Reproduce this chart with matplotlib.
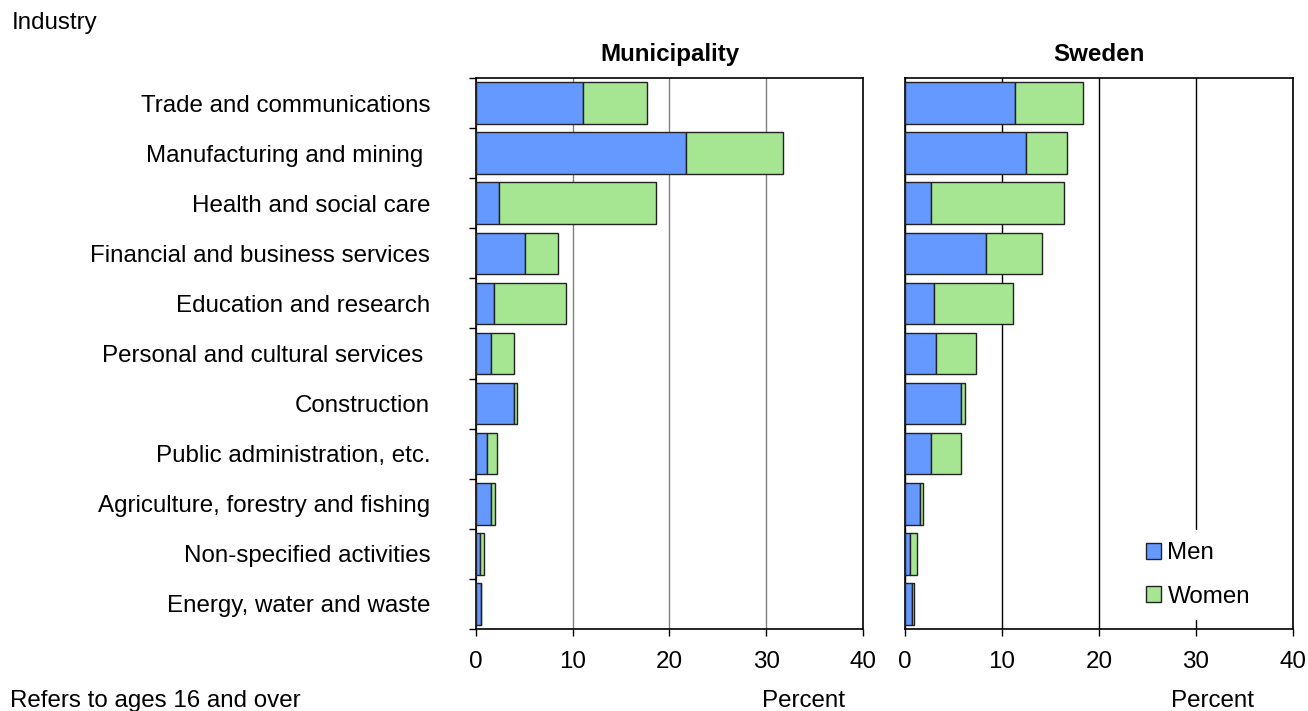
import matplotlib.pyplot as plt
import matplotlib.ticker as mticker
import numpy as np

plt.rcParams['font.family'] = ['Liberation Sans', 'DejaVu Sans']

# industries, top to bottom
industries = ["Trade and communications", "Manufacturing and mining ",
              "Health and social care", "Financial and business services",
              "Education and research", "Personal and cultural services ",
              "Construction", "Public administration, etc.",
              "Agriculture, forestry and fishing", "Non-specified activities",
              "Energy, water and waste"]

# share of employed, percent
muni_men = [11.1, 21.7, 2.35, 5.1, 1.9, 1.6, 3.9, 1.1, 1.6, 0.45, 0.5]
muni_women = [6.6, 10.0, 16.25, 3.4, 7.4, 2.3, 0.3, 1.1, 0.4, 0.38, 0.05]
swe_men = [11.3, 12.5, 2.7, 8.3, 3.0, 3.2, 5.75, 2.65, 1.5, 0.55, 0.76]
swe_women = [7.05, 4.2, 13.7, 5.8, 8.1, 4.1, 0.45, 3.15, 0.32, 0.69, 0.17]

men_color = '#6699FF'
women_color = '#A6E591'
fs = 17.4

fig = plt.figure(figsize=(13.08, 7.11), dpi=100)
ax1 = fig.add_axes([0.3639, 0.1153, 0.2959, 0.775])
ax2 = fig.add_axes([0.6919, 0.1153, 0.2966, 0.775])

y = np.arange(len(industries))
for ax, men, women, title, gcol in [(ax1, muni_men, muni_women, 'Municipality', '#808080'),
                                    (ax2, swe_men, swe_women, 'Sweden', 'black')]:
    ax.barh(y, men, height=0.83, color=men_color, edgecolor='#222222', linewidth=1, label='Men', zorder=3)
    ax.barh(y, women, left=men, height=0.83, color=women_color, edgecolor='#222222', linewidth=1,
            label='Women', zorder=3)
    ax.set_xlim(0, 40)
    ax.set_ylim(len(industries) - 0.5, -0.5)
    ax.set_xticks([0, 10, 20, 30, 40])
    ax.tick_params(axis='x', labelsize=fs, length=5, width=1, direction='out', pad=11)
    ax.grid(axis='x', color=gcol, linewidth=1, zorder=0)
    ax.set_title(title, fontsize=fs, fontweight='bold', pad=12)
    for s in ax.spines.values():
        s.set_linewidth(1.2)
        s.set_color('black')

ax1.set_yticks(y)
ax1.set_yticklabels(industries, fontsize=fs)
ax1.tick_params(axis='y', which='major', length=0, pad=33)
ax1.yaxis.set_minor_locator(mticker.FixedLocator(np.arange(-0.5, len(industries), 1)))
ax1.tick_params(axis='y', which='minor', length=5, width=1, direction='out')
ax2.set_yticks([])

leg = ax2.legend(loc='center', bbox_to_anchor=(0.755, 0.098), fontsize=fs, frameon=True,
                 facecolor='white', edgecolor='none', framealpha=1, labelspacing=0.9,
                 handlelength=0.65, handleheight=0.65, handletextpad=0.25, borderpad=0.5)
leg.set_zorder(5)

fig.text(0.009, 0.968, 'Industry', fontsize=fs, ha='left', va='center')
fig.text(0.008, 0.005, 'Refers to ages 16 and over', fontsize=fs, ha='left', va='baseline')
fig.text(0.614, 0.005, 'Percent', fontsize=fs, ha='center', va='baseline')
fig.text(0.927, 0.005, 'Percent', fontsize=fs, ha='center', va='baseline')

plt.savefig('out.png', dpi=100)
